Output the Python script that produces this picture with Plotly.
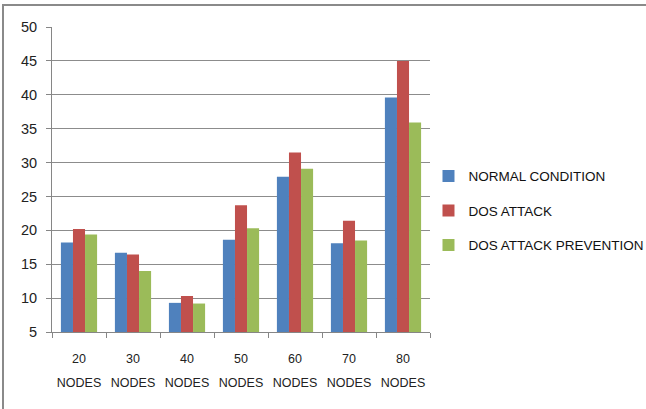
import plotly.graph_objects as go

categories = ["20", "30", "40", "50", "60", "70", "80"]
normal = [18.2, 16.7, 9.3, 18.6, 27.9, 18.1, 39.6]
dos = [20.2, 16.45, 10.3, 23.7, 31.5, 21.4, 45.0]
prevention = [19.4, 14.0, 9.2, 20.3, 29.1, 18.5, 35.9]
series_names = ["NORMAL CONDITION", "DOS ATTACK", "DOS ATTACK PREVENTION"]
colors = ["#4F81BD", "#C0504D", "#9BBB59"]
tick_labels = [f"<span style='font-size:12.5px'>{c}</span><br><span style='font-size:12.5px'>NODES</span>"
               for c in categories]

fig = go.Figure()
for name, vals, col in zip(series_names, [normal, dos, prevention], colors):
    fig.add_trace(go.Bar(x=categories, y=vals, name=name, marker_color=col,
                         marker_line_width=0, legendgroup=name))

font = "Liberation Sans, Arial, sans-serif"
fig.update_layout(
    width=646, height=409,
    margin=dict(l=52, r=216, t=27, b=77, autoexpand=False),
    paper_bgcolor="white", plot_bgcolor="white",
    barmode="group", bargap=0.33, bargroupgap=0,
    font=dict(family=font, color="#222", size=12),
    showlegend=True,
    legend=dict(xref="container", yref="container", x=0.6633, y=0.607,
                xanchor="left", yanchor="top", tracegroupgap=14,
                font=dict(size=13.5, family=font, color="#111"),
                itemwidth=30, bgcolor="rgba(0,0,0,0)"),
    xaxis=dict(type="category", tickmode="array", tickvals=categories, ticktext=tick_labels,
               tickson="boundaries", ticks="outside", ticklen=5, tickcolor="#868686",
               showline=True, linecolor="#868686", linewidth=1, showgrid=False,
               tickangle=0, automargin=False,
               tickfont=dict(size=18.5, family=font, color="#222"), ticklabelstandoff=8),
    yaxis=dict(range=[5, 50], tickvals=[5, 10, 15, 20, 25, 30, 35, 40, 45, 50],
               ticks="outside", ticklen=5, tickcolor="#868686",
               showline=True, linecolor="#868686", linewidth=1, automargin=False,
               showgrid=True, gridcolor="#8c8c8c", gridwidth=1, zeroline=False,
               tickfont=dict(size=14.5, family=font, color="#222"), ticklabelstandoff=6),
    shapes=[dict(type="rect", xref="paper", yref="paper",
                 x0=-49/378, x1=1 + 230/378, y0=-90/305, y1=1 + 22/305,
                 line=dict(color="#8a8a8a", width=2), fillcolor="rgba(0,0,0,0)", layer="below")],
)
fig.write_html("out.html", config={"displayModeBar": False},
               post_script="document.body.style.margin='0';document.body.style.overflow='hidden';")
